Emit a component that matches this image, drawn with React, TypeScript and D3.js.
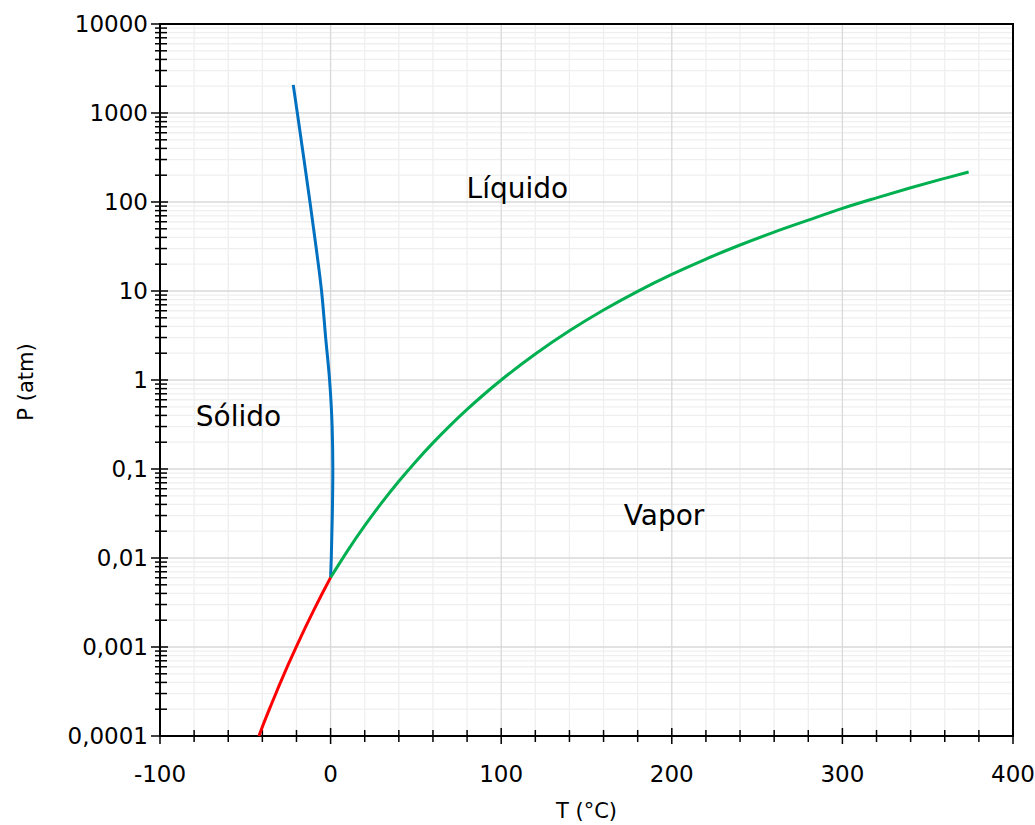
import React from 'react'
import * as d3 from 'd3'

// curva de fusión (sólido-líquido): [T °C, P atm]
const fusionT = [0.01, 0.4, 1.0, 1.3, 0.9, -0.6, -2.9, -5.3, -8.4, -12.1, -15.6, -19.5, -21.9]
const fusionP = [0.00604, 0.01, 0.03, 0.1, 0.3, 1, 3, 10, 30, 100, 300, 1000, 2070]

// curva de vaporización (líquido-vapor)
const vapT = [0.01, 10, 20, 30, 40, 50, 60, 70, 80, 90, 100, 120, 140, 160, 180, 200, 220, 240, 260, 280, 300, 320, 340, 360, 374]
const vapP = [0.00604, 0.01212, 0.02308, 0.04187, 0.07278, 0.1217, 0.1966, 0.3075, 0.4672, 0.6918, 1.0, 1.9595, 3.5693, 6.1133, 9.9136, 15.344, 22.842, 32.863, 45.92, 62.55, 84.8, 111.3, 144.5, 184.4, 217.7]

// curva de sublimación (sólido-vapor)
const subT = [0.01, -5, -10, -15, -20, -25, -30, -35, -40, -42.04]
const subP = [0.00604, 0.003965, 0.002565, 0.001632, 0.001019, 0.000625, 0.000375, 0.00022, 0.0001267, 0.0001]

const xTicks = [-100, 0, 100, 200, 300, 400]
const xTickLabels = ['-100', '0', '100', '200', '300', '400']
const yTicks = [0.0001, 0.001, 0.01, 0.1, 1, 10, 100, 1000, 10000]
const yTickLabels = ['0,0001', '0,001', '0,01', '0,1', '1', '10', '100', '1000', '10000']

const regionNames = ['Líquido', 'Sólido', 'Vapor']

const W = 1035
const H = 825
const margin = { top: 24, right: 22, bottom: 89, left: 160 }
const font = 'DejaVu Sans, sans-serif'

export default function App() {
	const x = d3.scaleLinear().domain([-100, 400]).range([margin.left, W - margin.right])
	const y = d3.scaleLog().domain([0.0001, 10000]).range([H - margin.bottom, margin.top])

	const x0 = x.range()[0], x1 = x.range()[1]
	const y0 = y.range()[0], y1 = y.range()[1]

	const xMinor = d3.range(-100, 401, 20).filter(v => v % 100 !== 0)
	const yMinor: number[] = []
	for (let k = -4; k < 4; k++) {
		for (let m = 2; m <= 9; m++) yMinor.push(m * Math.pow(10, k))
	}

	const line = d3.line<[number, number]>()
		.x(d => x(d[0]))
		.y(d => y(d[1]))

	const fusion = line.curve(d3.curveMonotoneY)(fusionT.map((t, i) => [t, fusionP[i]]))
	const vap = line.curve(d3.curveMonotoneX)(vapT.map((t, i) => [t, vapP[i]]))
	const sub = line.curve(d3.curveMonotoneX)(subT.map((t, i) => [t, subP[i]]))

	const labelPos: [number, number][] = [[109.5, 111], [-54, 0.304], [195.5, 0.0235]]

	return (
		<svg width={W} height={H} style={{ position: 'absolute', left: 0, top: 0, background: '#fff' }} fontFamily={font}>
			{/* rejilla */}
			{xMinor.map(v => <line key={'xm' + v} x1={x(v)} x2={x(v)} y1={y0} y2={y1} stroke="#efefef" strokeWidth={1.3} />)}
			{yMinor.map(v => <line key={'ym' + v} x1={x0} x2={x1} y1={y(v)} y2={y(v)} stroke="#efefef" strokeWidth={1.3} />)}
			{xTicks.map(v => <line key={'xM' + v} x1={x(v)} x2={x(v)} y1={y0} y2={y1} stroke="#d9d9d9" strokeWidth={1.3} />)}
			{yTicks.map(v => <line key={'yM' + v} x1={x0} x2={x1} y1={y(v)} y2={y(v)} stroke="#d9d9d9" strokeWidth={1.3} />)}

			{/* marco */}
			<rect x={x0} y={y1} width={x1 - x0} height={y0 - y1} fill="none" stroke="#000" strokeWidth={2} />

			{/* marcas eje x */}
			{xMinor.map(v => <line key={'xt' + v} x1={x(v)} x2={x(v)} y1={y0 - 6} y2={y0 + 6} stroke="#000" strokeWidth={1.5} />)}
			{xTicks.map(v => <line key={'xT' + v} x1={x(v)} x2={x(v)} y1={y0 - 8} y2={y0 + 8} stroke="#000" strokeWidth={1.5} />)}
			{xTicks.map((v, i) => (
				<text key={'xl' + v} x={x(v)} y={y0 + 46} textAnchor="middle" fontSize={23} fill="#000">{xTickLabels[i]}</text>
			))}

			{/* marcas eje y */}
			{yMinor.map(v => <line key={'yt' + v} x1={x0 - 5} x2={x0 + 7} y1={y(v)} y2={y(v)} stroke="#000" strokeWidth={1.5} />)}
			{yTicks.map(v => <line key={'yT' + v} x1={x0 - 9} x2={x0 + 8} y1={y(v)} y2={y(v)} stroke="#000" strokeWidth={1.5} />)}
			{yTicks.map((v, i) => (
				<text key={'yl' + v} x={x0 - 12} y={y(v)} dy="0.36em" textAnchor="end" fontSize={23} fill="#000">{yTickLabels[i]}</text>
			))}

			{/* curvas */}
			<path d={fusion || ''} fill="none" stroke="#0070c0" strokeWidth={3} />
			<path d={vap || ''} fill="none" stroke="#00b050" strokeWidth={3} />
			<path d={sub || ''} fill="none" stroke="#ff0000" strokeWidth={3} />

			{/* regiones */}
			{regionNames.map((name, i) => (
				<text key={name} x={x(labelPos[i][0])} y={y(labelPos[i][1])} textAnchor="middle" fontSize={28} fill="#000">{name}</text>
			))}

			{/* títulos de ejes */}
			<text x={(x0 + x1) / 2} y={818} textAnchor="middle" fontSize={21} fill="#000">T (°C)</text>
			<text transform={`translate(33, ${382}) rotate(-90)`} textAnchor="middle" fontSize={21} fill="#000">P (atm)</text>
		</svg>
	)
}
